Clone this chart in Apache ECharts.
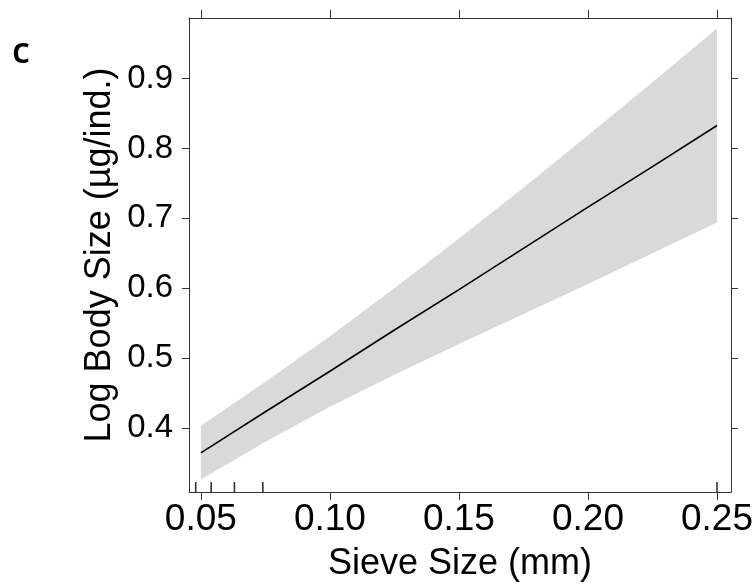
<!DOCTYPE html>
<html>
<head>
<meta charset="utf-8">
<script src="https://cdn.jsdelivr.net/npm/echarts@6/dist/echarts.min.js"></script>
<style>html,body{margin:0;padding:0;background:#fff}#c{width:756px;height:588px}</style>
</head>
<body>
<div id="c"></div>
<script>
// Data
const sieveSize = [0.05, 0.075, 0.10, 0.125, 0.15, 0.175, 0.20, 0.225, 0.25];
const fitValues = [0.364, 0.423, 0.481, 0.540, 0.598, 0.657, 0.716, 0.774, 0.833];
const lowerCI   = [0.326, 0.380, 0.430, 0.476, 0.520, 0.563, 0.606, 0.650, 0.694];
const upperCI   = [0.403, 0.466, 0.531, 0.600, 0.671, 0.744, 0.819, 0.895, 0.972];
const rugValues = [0.048, 0.054, 0.063, 0.074, 0.25];
const xTicks = [0.05, 0.10, 0.15, 0.20, 0.25];
const yTicks = [0.4, 0.5, 0.6, 0.7, 0.8, 0.9];
const X_MIN = 0.0454, X_MAX = 0.2554;
const Y_MIN = 0.308, Y_MAX = 0.987;

const FONT = 'Liberation Sans, Arial, sans-serif';
const AX = '#333';

const chart = echarts.init(document.getElementById('c'), null, {renderer: 'canvas'});

const baseX = {
  type: 'value', min: X_MIN, max: X_MAX,
  splitLine: {show: false},
  axisLine: {show: true, onZero: false, lineStyle: {color: AX, width: 1}},
  axisTick: {show: true, length: 8, lineStyle: {color: AX, width: 1}, customValues: xTicks}
};
const baseY = {
  type: 'value', min: Y_MIN, max: Y_MAX,
  splitLine: {show: false},
  axisLine: {show: true, onZero: false, lineStyle: {color: AX, width: 1}},
  axisTick: {show: true, length: 7, lineStyle: {color: AX, width: 1}, customValues: yTicks}
};

chart.setOption({
  animation: false,
  backgroundColor: '#fff',
  grid: {left: 189, right: 23, top: 18, bottom: 96},
  graphic: [{
    type: 'text', left: 12, top: 35,
    style: {text: 'c', font: '600 36px "Open Sans", sans-serif', fill: '#000'}
  }],
  xAxis: [
    Object.assign({}, baseX, {
      position: 'bottom',
      name: 'Sieve Size (mm)', nameLocation: 'middle', nameGap: 54,
      nameMoveOverlap: false,
      nameTextStyle: {fontFamily: FONT, fontSize: 36, color: '#000'},
      axisLabel: {
        show: true, customValues: xTicks, margin: 9,
        fontFamily: FONT, fontSize: 37, color: '#000',
        formatter: v => v.toFixed(2)
      }
    }),
    Object.assign({}, baseX, {
      position: 'top',
      axisLabel: {show: false}
    })
  ],
  yAxis: [
    Object.assign({}, baseY, {
      position: 'left',
      name: 'Log Body Size (µg/ind.)', nameLocation: 'middle', nameGap: 71,
      nameRotate: 90, nameMoveOverlap: false,
      nameTextStyle: {fontFamily: FONT, fontSize: 36, color: '#000'},
      axisLabel: {
        show: true, customValues: yTicks, margin: 16,
        fontFamily: FONT, fontSize: 33, color: '#000',
        formatter: v => v.toFixed(1)
      }
    }),
    Object.assign({}, baseY, {
      position: 'right',
      axisLabel: {show: false}
    })
  ],
  series: [
    {
      type: 'custom', name: 'band',
      data: [0],
      silent: true, z: 1,
      renderItem: function (params, api) {
        const pts = [];
        for (let i = 0; i < sieveSize.length; i++) pts.push(api.coord([sieveSize[i], upperCI[i]]));
        for (let i = sieveSize.length - 1; i >= 0; i--) pts.push(api.coord([sieveSize[i], lowerCI[i]]));
        return {type: 'polygon', shape: {points: pts, smooth: 0}, style: {fill: '#d9d9d9', stroke: null}};
      }
    },
    {
      type: 'line', name: 'fit',
      data: sieveSize.map((x, i) => [x, fitValues[i]]),
      showSymbol: false, symbol: 'none',
      lineStyle: {color: '#000', width: 1.6}, z: 3
    },
    {
      type: 'scatter', name: 'rug',
      data: rugValues.map(x => [x, Y_MIN]),
      symbol: 'rect', symbolSize: [1.6, 10], symbolOffset: [0, -5],
      itemStyle: {color: '#000'}, z: 4, silent: true
    }
  ]
});
</script>
</body>
</html>
